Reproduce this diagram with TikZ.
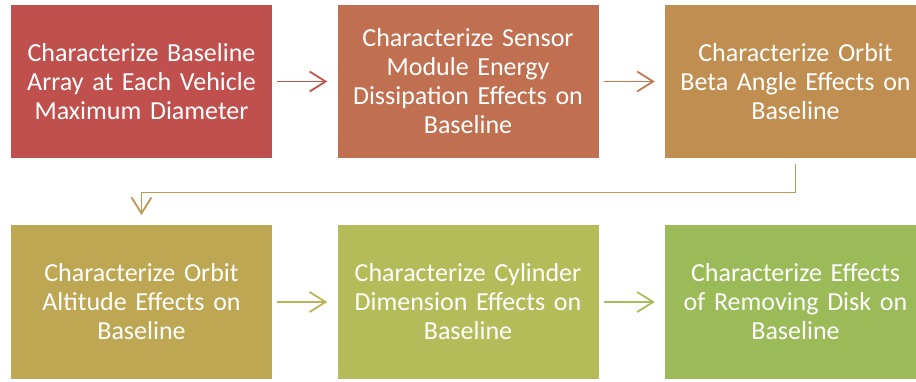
\documentclass[tikz,border=0pt]{standalone}
\usepackage{fontspec}
\setmainfont{Carlito}
\usetikzlibrary{arrows.meta}
\definecolor{c1}{HTML}{C0504D}
\definecolor{c2}{HTML}{C07050}
\definecolor{c3}{HTML}{BF8E50}
\definecolor{c4}{HTML}{BDA753}
\definecolor{c5}{HTML}{B4BC5A}
\definecolor{c6}{HTML}{9BBB59}
\begin{document}
\begin{tikzpicture}[x=1pt,y=-1pt,
  box/.style={minimum width=261pt, minimum height=153.5pt, inner sep=0pt, align=center,
    text=white, font=\fontsize{26}{29}\selectfont, text width=255pt},
  conn/.style={line width=1.8pt, -{Straight Barb[length=16pt,width=20pt,line width=1.8pt]}}]
\useasboundingbox (0,0) rectangle (916,381);
\clip (0,0) rectangle (916,381);
\node[box, fill=c1] (b1) at (141.5,81.5) {Characterize Baseline\\Array at Each Vehicle\\Maximum Diameter};
\node[box, fill=c2] (b2) at (468,81.5) {Characterize Sensor\\Module Energy\\Dissipation Effects on\\Baseline};
\node[box, fill=c3] (b3) at (795.5,81.5) {Characterize Orbit\\Beta Angle Effects on\\Baseline};
\node[box, fill=c4] (b4) at (141.5,302) {Characterize Orbit\\Altitude Effects on\\Baseline};
\node[box, fill=c5] (b5) at (468,302) {Characterize Cylinder\\Dimension Effects on\\Baseline};
\node[box, fill=c6] (b6) at (795.5,302) {Characterize Effects\\of Removing Disk on\\Baseline};
\draw[conn, draw=c1!85!c2] ([xshift=5pt]b1.east) -- ([xshift=-10pt]b2.west);
\draw[conn, draw=c2!70!c3] ([xshift=5pt]b2.east) -- ([xshift=-10pt]b3.west);
\draw[conn, draw=c3!60!c4] ([yshift=-6pt]b3.south) -- ++(0,28) -| ([yshift=10pt]b4.north);
\draw[conn, draw=c4!40!c5] ([xshift=5pt]b4.east) -- ([xshift=-10pt]b5.west);
\draw[conn, draw=c5!60!c6] ([xshift=5pt]b5.east) -- ([xshift=-10pt]b6.west);
\end{tikzpicture}
\end{document}
